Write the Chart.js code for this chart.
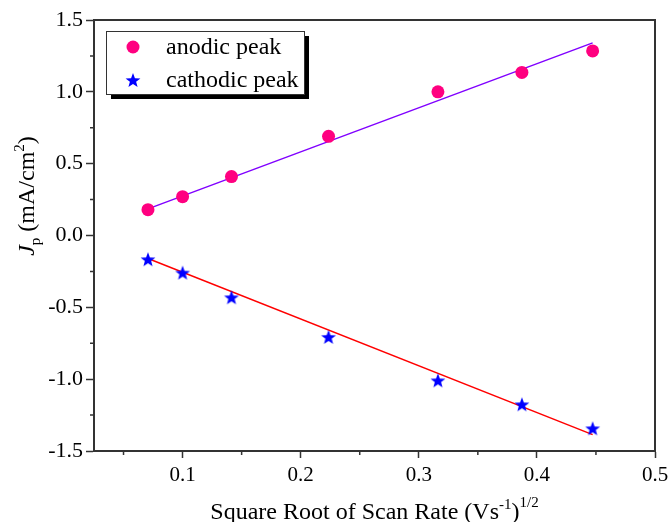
<!DOCTYPE html>
<html>
<head>
<meta charset="utf-8">
<script src="https://cdn.jsdelivr.net/npm/chart.js@4"></script>
<style>
  html, body { margin: 0; padding: 0; background: #fff; }
  canvas { display: block; }
</style>
</head>
<body>
<canvas id="chart" width="671" height="522"></canvas>
<script>
// sqrt of scan rate (V/s)^1/2
const sqrtScanRate = [0.0707, 0.1, 0.1414, 0.2236, 0.3162, 0.3873, 0.4472];
const anodicPeak = [0.18, 0.27, 0.41, 0.69, 1.0, 1.135, 1.285];
const cathodicPeak = [-0.165, -0.258, -0.43, -0.706, -1.008, -1.175, -1.342];

// linear fits (end points)
const fitX = [0.0707, 0.4472];
const anodicFit = [0.185, 1.341];
const cathodicFit = [-0.16, -1.386];

const xTicks = [0.1, 0.2, 0.3, 0.4, 0.5];
const xMinorTicks = [0.05, 0.15, 0.25, 0.35, 0.45];
const yTicks = [-1.5, -1.0, -0.5, 0.0, 0.5, 1.0, 1.5];
const yMinorTicks = [-1.25, -0.75, -0.25, 0.25, 0.75, 1.25];

const legendLabels = ['anodic peak', 'cathodic peak'];

const SERIF = "'Liberation Serif', 'Times New Roman', serif";
const AXIS = '#333';

function makeStar(r, color) {
  const c = document.createElement('canvas');
  const s = Math.ceil(r * 2 + 2);
  c.width = s; c.height = s;
  const g = c.getContext('2d');
  g.fillStyle = color;
  g.beginPath();
  for (let i = 0; i < 10; i++) {
    const rad = i % 2 ? r * 0.42 : r;
    const a = -Math.PI / 2 + i * Math.PI / 5;
    g.lineTo(s / 2 + rad * Math.cos(a), s / 2 + 0.8 + rad * Math.sin(a));
  }
  g.closePath();
  g.fill();
  return c;
}
const star = makeStar(7.8, '#0000ff');

const pts = (xs, ys) => xs.map((x, i) => ({ x: x, y: ys[i] }));

// minor ticks, frame, legend box and axis titles
const extras = {
  id: 'extras',
  afterDraw(chart) {
    const ctx = chart.ctx;
    const a = chart.chartArea;
    const xs = chart.scales.x, ys = chart.scales.y;
    ctx.save();
    ctx.strokeStyle = AXIS;
    ctx.lineWidth = 1.5;
    ctx.beginPath();
    xMinorTicks.forEach(v => {
      const px = xs.getPixelForValue(v);
      ctx.moveTo(px, a.bottom); ctx.lineTo(px, a.bottom + 4);
    });
    yMinorTicks.forEach(v => {
      const py = ys.getPixelForValue(v);
      ctx.moveTo(a.left, py); ctx.lineTo(a.left - 4, py);
    });
    ctx.stroke();

    // top and right frame
    ctx.lineWidth = 2;
    ctx.beginPath();
    ctx.moveTo(a.left, a.top); ctx.lineTo(a.right, a.top); ctx.lineTo(a.right, a.bottom);
    ctx.stroke();

    // legend with drop shadow
    const lx = 106, ly = 31, lw = 198, lh = 63;
    ctx.fillStyle = '#000';
    ctx.fillRect(lx + 5, ly + 5, lw, lh);
    ctx.fillStyle = '#fff';
    ctx.fillRect(lx, ly, lw, lh);
    ctx.strokeStyle = '#333';
    ctx.lineWidth = 1;
    ctx.strokeRect(lx + 0.5, ly + 0.5, lw, lh);
    ctx.font = '24px ' + SERIF;
    ctx.textBaseline = 'middle';
    [0, 1].forEach(i => {
      const ds = chart.data.datasets[i];
      const cy = ly + 16 + i * 33;
      if (ds.pointStyle === 'circle') {
        ctx.fillStyle = ds.backgroundColor;
        ctx.beginPath(); ctx.arc(133, cy, ds.pointRadius, 0, Math.PI * 2); ctx.fill();
      } else {
        Chart.helpers.drawPoint(ctx, { pointStyle: ds.pointStyle, radius: ds.pointRadius, rotation: 0, borderWidth: 0 }, 133, cy);
      }
      ctx.fillStyle = '#000';
      ctx.fillText(legendLabels[i], 166, cy + 1);
    });

    // x title with superscripts
    const parts = [
      ['Square Root of Scan Rate (Vs', 24, 0],
      ['-1', 15, -10],
      [')', 24, 0],
      ['1/2', 15, -12]
    ];
    ctx.textBaseline = 'alphabetic';
    let total = 0;
    parts.forEach(p => { ctx.font = p[1] + 'px ' + SERIF; total += ctx.measureText(p[0]).width; });
    let x = (a.left + a.right) / 2 - total / 2;
    parts.forEach(p => {
      ctx.font = p[1] + 'px ' + SERIF;
      ctx.fillText(p[0], x, 519 + p[2]);
      x += ctx.measureText(p[0]).width;
    });

    // y title, rotated
    const yparts = [
      ['J', 'italic 24px ' + SERIF, 0],
      ['p', '15px ' + SERIF, 6],
      [' (mA/cm', '24px ' + SERIF, 0],
      ['2', '15px ' + SERIF, -10],
      [')', '24px ' + SERIF, 0]
    ];
    ctx.translate(34, 196);
    ctx.rotate(-Math.PI / 2);
    total = 0;
    yparts.forEach(p => { ctx.font = p[1]; total += ctx.measureText(p[0]).width; });
    x = -total / 2;
    yparts.forEach(p => {
      ctx.font = p[1];
      ctx.fillText(p[0], x, p[2]);
      x += ctx.measureText(p[0]).width;
    });
    ctx.restore();
  }
};

new Chart(document.getElementById('chart'), {
  type: 'scatter',
  data: {
    datasets: [
      {
        label: 'anodic peak',
        data: pts(sqrtScanRate, anodicPeak),
        pointStyle: 'circle',
        pointRadius: 6.5,
        backgroundColor: '#ff0080',
        borderColor: '#ff0080',
        borderWidth: 0
      },
      {
        label: 'cathodic peak',
        data: pts(sqrtScanRate, cathodicPeak),
        pointStyle: star,
        pointRadius: 7.8,
        backgroundColor: '#0000ff',
        borderColor: '#0000ff'
      },
      {
        label: 'anodic fit',
        data: pts(fitX, anodicFit),
        showLine: true,
        pointRadius: 0,
        borderColor: '#8000ff',
        borderWidth: 1.5
      },
      {
        label: 'cathodic fit',
        data: pts(fitX, cathodicFit),
        showLine: true,
        pointRadius: 0,
        borderColor: '#ff0000',
        borderWidth: 1.5
      }
    ]
  },
  options: {
    responsive: false,
    animation: false,
    devicePixelRatio: 1,
    layout: { padding: { left: 0, right: 16, top: 20, bottom: 0 } },
    plugins: { legend: { display: false }, tooltip: { enabled: false } },
    scales: {
      x: {
        type: 'linear',
        min: 0.025,
        max: 0.5,
        afterBuildTicks: s => { s.ticks = xTicks.map(v => ({ value: v })); },
        afterFit: s => { s.height = 71; s.paddingLeft = 0; s.paddingRight = 0; },
        grid: { drawOnChartArea: false, drawTicks: true, tickLength: 7, tickWidth: 1.5, tickColor: AXIS },
        border: { display: true, color: AXIS, width: 2 },
        ticks: {
          color: '#000',
          padding: 5,
          maxRotation: 0,
          font: { family: SERIF, size: 21 },
          callback: v => v.toFixed(1)
        }
      },
      y: {
        type: 'linear',
        min: -1.5,
        max: 1.5,
        afterBuildTicks: s => { s.ticks = yTicks.map(v => ({ value: v })); },
        afterFit: s => { s.width = 94; s.paddingTop = 0; s.paddingBottom = 0; },
        grid: { drawOnChartArea: false, drawTicks: true, tickLength: 8, tickWidth: 1.5, tickColor: AXIS },
        border: { display: true, color: AXIS, width: 2 },
        ticks: {
          color: '#000',
          padding: 3,
          font: { family: SERIF, size: 22 },
          callback: v => v.toFixed(1)
        }
      }
    }
  },
  plugins: [extras]
});
</script>
</body>
</html>
